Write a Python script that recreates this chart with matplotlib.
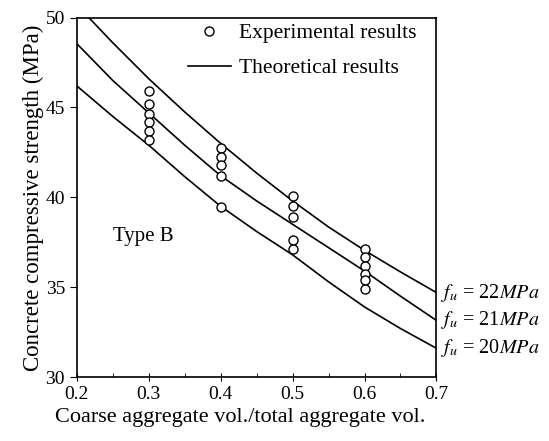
import numpy as np
import matplotlib.pyplot as plt

plt.rcParams['font.family'] = ['Liberation Serif', 'DejaVu Serif']
plt.rcParams['mathtext.fontset'] = 'stix'

# experimental points (coarse / total aggregate volume ratio, strength MPa)
exp_x = [0.3] * 6 + [0.4] * 5 + [0.5] * 5 + [0.6] * 6
exp_y = [45.9, 45.2, 44.65, 44.2, 43.7, 43.2,
         42.75, 42.25, 41.8, 41.2, 39.45,
         40.1, 39.5, 38.9, 37.65, 37.15,
         37.15, 36.7, 36.2, 35.75, 35.4, 34.9]

# theoretical curves
theo_x = [0.2, 0.25, 0.3, 0.35, 0.4, 0.45, 0.5, 0.55, 0.6, 0.65, 0.7]
theo_22 = [50.7, 48.6, 46.6, 44.75, 43.0, 41.35, 39.8, 38.35, 37.05, 35.85, 34.7]
theo_21 = [48.55, 46.5, 44.7, 42.9, 41.2, 39.8, 38.5, 37.2, 35.9, 34.5, 33.15]
theo_20 = [46.2, 44.5, 42.9, 41.15, 39.5, 38.1, 36.8, 35.3, 33.9, 32.7, 31.6]
curve_labels = ['$f_u$ = 22$MPa$', '$f_u$ = 21$MPa$', '$f_u$ = 20$MPa$']

fig = plt.figure(figsize=(5.49, 4.41), dpi=100)
ax = fig.add_axes([0.14, 0.145, 0.655, 0.815])

ax.plot(theo_x, theo_22, color='black', lw=1.2, label='Theoretical results')
ax.plot(theo_x, theo_21, color='black', lw=1.2)
ax.plot(theo_x, theo_20, color='black', lw=1.2)
ax.plot(exp_x, exp_y, 'o', mfc='white', mec='black', ms=6.5, mew=1.0,
        label='Experimental results', zorder=3)

for yv, lab in zip([theo_22[-1], theo_21[-1], theo_20[-1]], curve_labels):
    ax.annotate(lab, xy=(0.7, yv), xytext=(3, 0), textcoords='offset points',
                va='center', ha='left', fontsize=14.5, annotation_clip=False)

ax.text(0.25, 37.8, 'Type B', fontsize=15, va='center')

ax.set_xlim(0.2, 0.7)
ax.set_ylim(30, 50)
ax.set_xticks([0.2, 0.3, 0.4, 0.5, 0.6, 0.7])
ax.set_xticks(np.arange(0.25, 0.7, 0.1), minor=True)
ax.set_yticks([30, 35, 40, 45, 50])
ax.tick_params(axis='y', direction='out', labelsize=14, length=5)
ax.tick_params(axis='x', direction='inout', labelsize=14, length=6)
ax.tick_params(axis='x', which='minor', direction='in', length=3)
for s in ax.spines.values():
    s.set_linewidth(1.2)

ax.set_xlabel('Coarse aggregate vol./total aggregate vol.', fontsize=16)
ax.xaxis.set_label_coords(0.455, -0.085)
ax.set_ylabel('Concrete compressive strength (MPa)', fontsize=16.5, labelpad=1)

h, l = ax.get_legend_handles_labels()
ax.legend(h[::-1], l[::-1], loc='upper right', bbox_to_anchor=(0.945, 0.985),
          frameon=False, fontsize=15.5, handlelength=2.0, handletextpad=0.4,
          labelspacing=0.7, borderpad=0, borderaxespad=0)

fig.savefig('out.png', dpi=100)
